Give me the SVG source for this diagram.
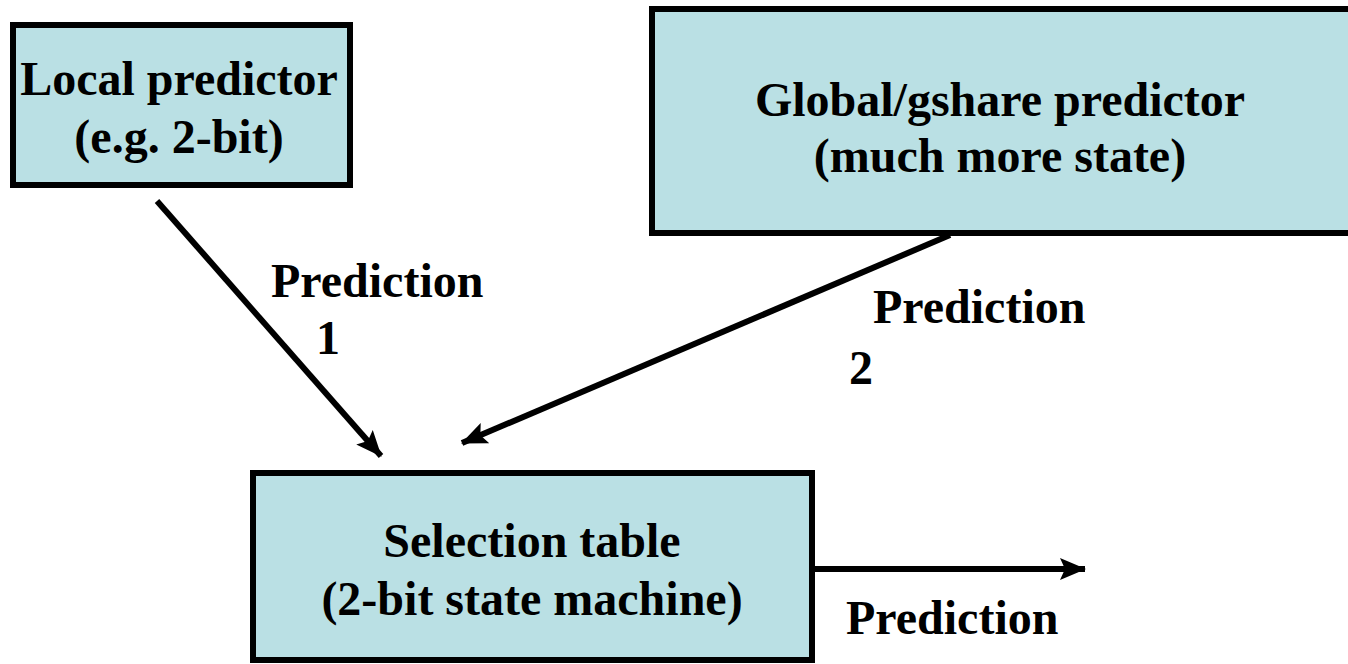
<svg xmlns="http://www.w3.org/2000/svg" width="1348" height="664" viewBox="0 0 1348 664">
<defs>
<style>
.box{fill:#bae0e4;stroke:#000;stroke-width:6}
.t{font-family:"Liberation Serif","Times New Roman",serif;font-weight:bold;font-size:48px;fill:#000}
.c{text-anchor:middle}
.ln{stroke:#000;stroke-width:6;fill:none}
</style>
<marker id="ah" markerUnits="userSpaceOnUse" markerWidth="26" markerHeight="24" viewBox="0 0 26 24" refX="25" refY="12" orient="auto">
<path d="M0,1 L26,12 L0,23 L5,12 Z" fill="#000"/>
</marker>
</defs>
<rect width="1348" height="664" fill="#fff"/>
<g id="local">
<rect class="box" x="13" y="25" width="337" height="160"/>
<text class="t c" x="179" y="95">Local predictor</text>
<text class="t c" x="179" y="153">(e.g. 2-bit)</text>
</g>
<g id="global">
<rect class="box" x="652" y="9" width="700" height="224"/>
<text class="t c" x="1000" y="116">Global/gshare predictor</text>
<text class="t c" x="1000" y="172">(much more state)</text>
</g>
<g id="selection">
<rect class="box" x="253" y="473" width="559" height="187"/>
<text class="t c" x="532" y="557">Selection table</text>
<text class="t c" x="532" y="615">(2-bit state machine)</text>
</g>
<g id="connectors">
<line class="ln" x1="157" y1="201" x2="381" y2="456" marker-end="url(#ah)"/>
<line class="ln" x1="950" y1="235" x2="462" y2="443" marker-end="url(#ah)"/>
<line class="ln" x1="815" y1="569" x2="1085" y2="569" marker-end="url(#ah)"/>
</g>
<g id="labels">
<text class="t" x="271" y="297">Prediction</text>
<text class="t c" x="328" y="354">1</text>
<text class="t" x="873" y="323">Prediction</text>
<text class="t c" x="861" y="384">2</text>
<text class="t" x="846" y="634">Prediction</text>
</g>
</svg>
